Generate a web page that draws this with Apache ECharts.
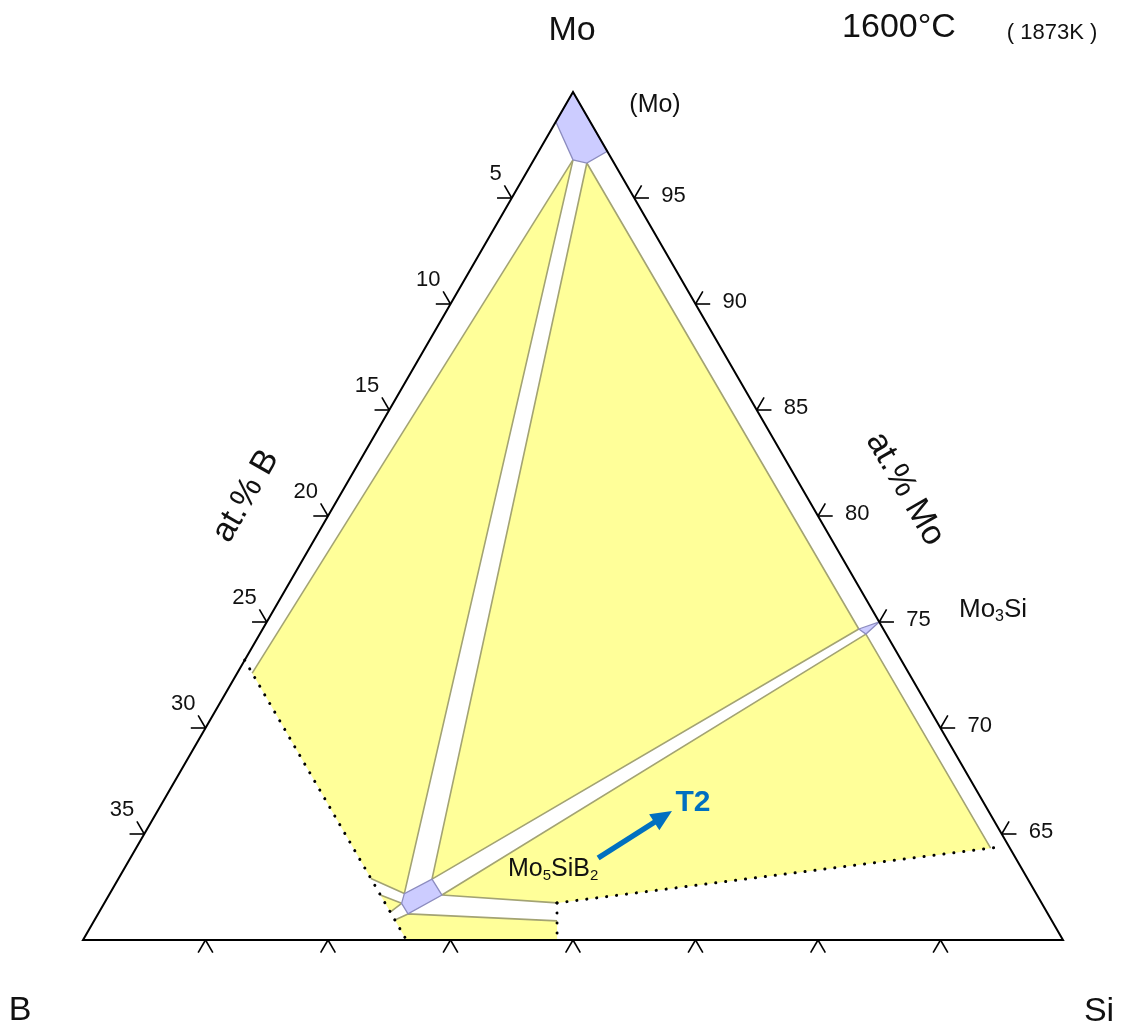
<!DOCTYPE html>
<html><head><meta charset="utf-8">
<script src="https://cdn.jsdelivr.net/npm/echarts@6/dist/echarts.min.js"></script>
<style>html,body{margin:0;padding:0;background:#fff}#c{width:1124px;height:1029px}</style>
</head><body><div id="c"></div>
<script>
// All compositions are [at.% B, at.% Si]; at.% Mo = 100 - B - Si
const corners = [[0, 0], [40, 0], [0, 40]];           // Mo apex, B-side corner, Si-side corner (Mo = 60)
const molySS = [[0, 0], [1.4, 0], [1.6, 1.6], [1.11, 2.24], [0, 2.8]];          // (Mo)
const mo3Si = [[1.0, 24.33], [0, 25.0], [0.83, 24.74]];                          // Mo3Si
const mo5SiB2 = [[26.13, 12.14], [25.79, 12.02], [24.32, 12.81], [24.29, 13.59], [26.12, 12.65]]; // T2
const yellowLeft = [[1.6, 1.6], [26.8, 0.61], [26.8, 10.3], [25.79, 12.02]];
const yellowCenter = [[1.11, 2.24], [1.0, 24.33], [24.32, 12.81]];
const yellowRight = [[0.83, 24.74], [0.79, 34.88], [19.78, 18.47], [24.29, 13.59]];
const yellowBottom = [[26.12, 12.65], [20.2, 18.9], [20.65, 19.35], [26.8, 13.2], [26.8, 12.26]];
const yellowSmall = [[26.8, 11.08], [26.13, 12.14], [26.8, 11.88]];
const tieLines = [
  [[1.6, 1.6], [26.8, 0.61]],
  [[26.8, 10.3], [25.79, 12.02], [1.6, 1.6]],
  [[1.11, 2.24], [1.0, 24.33], [24.32, 12.81], [1.11, 2.24]],
  [[19.78, 18.47], [24.29, 13.59], [0.83, 24.74], [0.79, 34.88]],
  [[26.8, 12.26], [26.12, 12.65], [20.2, 18.9]],
  [[26.8, 11.08], [26.13, 12.14], [26.8, 11.88]]
];
const dottedLines = [
  [[26.8, 0], [26.8, 13.2]],
  [[19.78, 18.47], [0.37, 35.24]],
  [[19.78, 18.47], [20.65, 19.35]]
];
const arrowT2 = [[17.04, 19.09], [12.92, 21.0]];   // tail, tip
const bTicks = [5, 10, 15, 20, 25, 30, 35];        // left edge, at.% B
const moTicks = [95, 90, 85, 80, 75, 70, 65];      // right edge, at.% Mo
const siTicks = [5, 10, 15, 20, 25, 30, 35];       // bottom edge (Mo = 60), at.% Si

const FONT = '"Liberation Sans", Arial, sans-serif';
const YELLOW = '#FFFF99', LAVENDER = '#CCCCFF', OLIVE = '#A3A373', LAV_EDGE = '#8C8CBF', BLUE = '#0070C0';

function toXY(c) { const mo = 100 - c[0] - c[1]; return [c[1] + mo / 2, mo]; }

const TL = 0.6;
const tickSegs = [];
bTicks.forEach(b => { const o = [b, 0]; tickSegs.push([o, [b + TL, -TL]], [o, [b, -TL]]); });
moTicks.forEach(m => { const o = [0, 100 - m]; tickSegs.push([o, [-TL, 100 - m + TL]], [o, [-TL, 100 - m]]); });
siTicks.forEach(s => { const o = [40 - s, s]; tickSegs.push([o, [40 - s + TL, s]], [o, [40 - s, s + TL]]); });

function layer(items, build, z) {
  return {
    type: 'custom', coordinateSystem: 'cartesian2d', clip: false, silent: true, z: z, animation: false,
    data: items.map(() => [50, 80]),
    renderItem: (params, api) => build(items[params.dataIndex], api)
  };
}
const pts = (arr, api) => arr.map(c => api.coord(toXY(c)));

const polyFill = (fill, stroke, lw) => (poly, api) => ({
  type: 'polygon', shape: { points: pts(poly, api) },
  style: { fill: fill, stroke: stroke, lineWidth: lw }
});
const lineStyle = (stroke, lw, dash) => (line, api) => ({
  type: 'polyline', shape: { points: pts(line, api) },
  style: dash ? { fill: null, stroke: stroke, lineWidth: lw, lineDash: dash, lineCap: 'round' }
              : { fill: null, stroke: stroke, lineWidth: lw, lineJoin: 'round' }
});

const txt = (x, y, text, size, opts) => Object.assign({
  type: 'text', x: x, y: y, z: 100,
  style: Object.assign({ text: text, fontSize: size, fontFamily: FONT, fill: '#111',
    align: 'center', verticalAlign: 'middle', textAlign: 'center', textVerticalAlign: 'middle' }, (opts && opts.style) || {})
}, opts && opts.el || {});

const subRich = (n, s) => ({
  n: { fontSize: n, fontFamily: FONT, fill: '#111', lineHeight: n + 4 },
  s: { fontSize: s, fontFamily: FONT, fill: '#111', lineHeight: s, verticalAlign: 'bottom' }
});

const chart = echarts.init(document.getElementById('c'), null, { renderer: 'canvas' });
chart.setOption({
  animation: false,
  backgroundColor: '#fff',
  grid: { left: 83, top: 92, width: 980, height: 848 },
  xAxis: { type: 'value', min: 30, max: 70, show: false },
  yAxis: { type: 'value', min: 60, max: 100, show: false },
  series: [
    layer([yellowLeft, yellowCenter, yellowRight, yellowBottom, yellowSmall], polyFill(YELLOW, null, 0), 1),
    layer(tieLines, lineStyle(OLIVE, 1.6), 2),
    layer(dottedLines, lineStyle('#000', 3, [0.1, 9.9]), 3),
    layer([molySS, mo3Si, mo5SiB2], polyFill(LAVENDER, LAV_EDGE, 1.3), 4),
    layer([corners], polyFill(null, '#000', 2), 5),
    layer(tickSegs, lineStyle('#000', 1.6), 5),
    layer(bTicks, (b, api) => {
      const p = api.coord(toXY([b, 0]));
      return { type: 'text', x: p[0] - 10, y: p[1] - 24,
        style: { text: String(b), fontSize: 22, fontFamily: FONT, fill: '#111', align: 'right', verticalAlign: 'middle', textAlign: 'right', textVerticalAlign: 'middle' } };
    }, 6),
    layer(moTicks, (m, api) => {
      const p = api.coord(toXY([0, 100 - m]));
      return { type: 'text', x: p[0] + 27, y: p[1] - 2,
        style: { text: String(m), fontSize: 22, fontFamily: FONT, fill: '#111', align: 'left', verticalAlign: 'middle', textAlign: 'left', textVerticalAlign: 'middle' } };
    }, 6),
    layer([arrowT2], (a, api) => {
      const p0 = api.coord(toXY(a[0])), p1 = api.coord(toXY(a[1]));
      const dx = p1[0] - p0[0], dy = p1[1] - p0[1], len = Math.hypot(dx, dy);
      const ux = dx / len, uy = dy / len, nx = -uy, ny = ux;
      const hl = 21, hw = 9.5;
      const bx = p1[0] - ux * hl, by = p1[1] - uy * hl;
      return { type: 'group', children: [
        { type: 'line', shape: { x1: p0[0], y1: p0[1], x2: bx + ux * 2, y2: by + uy * 2 }, style: { stroke: BLUE, lineWidth: 5.5 } },
        { type: 'polygon', shape: { points: [[p1[0], p1[1]], [bx + nx * hw, by + ny * hw], [bx - nx * hw, by - ny * hw]] }, style: { fill: BLUE } }
      ] };
    }, 7)
  ],
  graphic: [
    txt(572, 31, 'Mo', 34),
    txt(20, 1011, 'B', 34),
    txt(1099, 1012, 'Si', 34),
    txt(899, 28, '1600°C', 34),
    txt(1052, 33, '( 1873K )', 22),
    txt(655, 105, '(Mo)', 25),
    txt(246, 496, 'at.% B', 34, { el: { rotation: Math.PI / 3 } }),
    txt(905, 489, 'at.% Mo', 34, { el: { rotation: -Math.PI / 3 } }),
    txt(959, 610, '{n|Mo}{s|3}{n|Si}', 26, { style: { align: 'left', textAlign: 'left', rich: subRich(26, 16) } }),
    txt(508, 869, '{n|Mo}{s|5}{n|SiB}{s|2}', 25, { style: { align: 'left', textAlign: 'left', rich: subRich(25, 15) } }),
    txt(693, 803, 'T2', 30, { style: { fill: BLUE, fontWeight: 'bold' } })
  ]
});
</script></body></html>
